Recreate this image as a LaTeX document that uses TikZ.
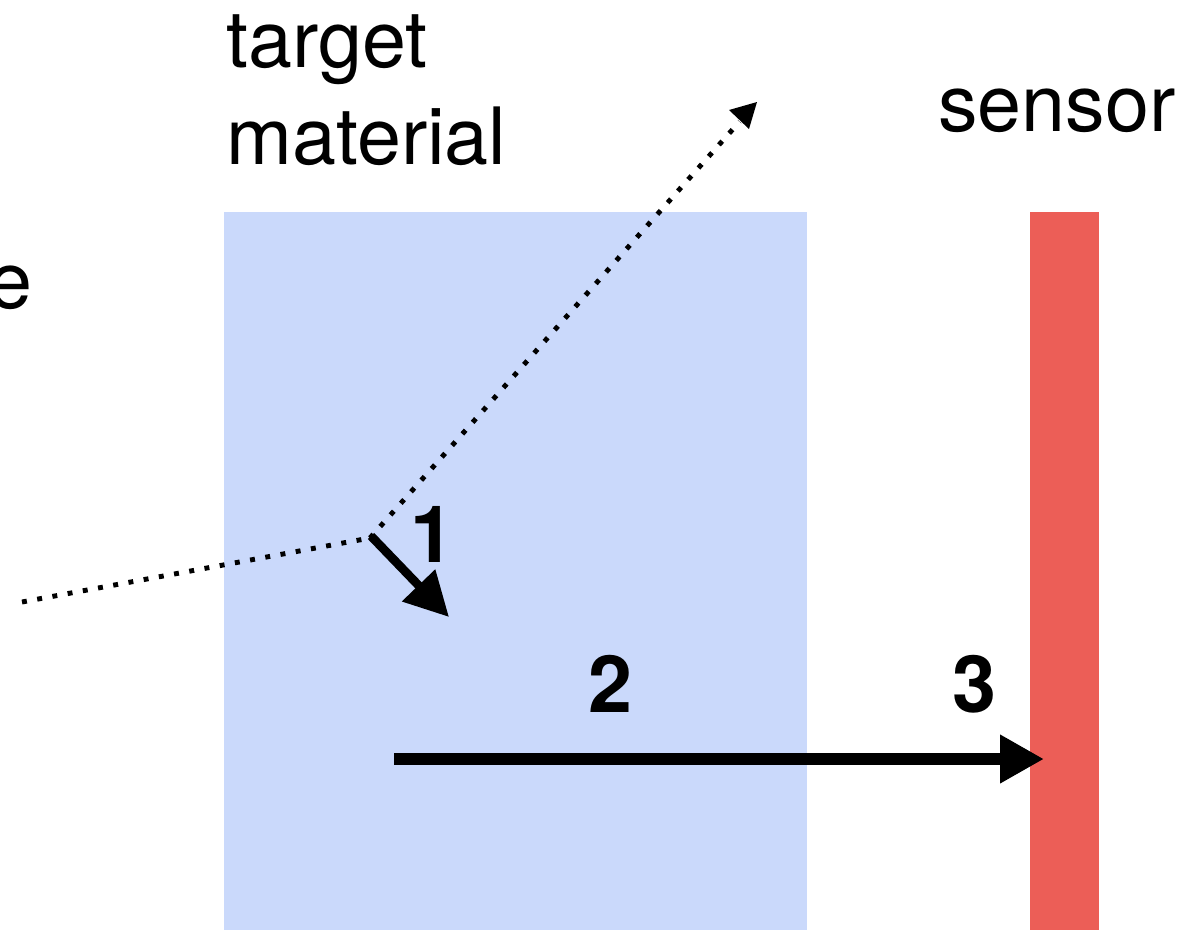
\documentclass[tikz,border=0pt]{standalone}
\usepackage{fontspec}
\setmainfont{TeX Gyre Heros}
\usetikzlibrary{arrows.meta,calc}
\definecolor{targetblue}{HTML}{CAD9FB}
\definecolor{sensorred}{HTML}{EC5E57}
\tikzset{
  lbl/.style={font=\fontsize{45}{57}\selectfont, inner sep=0pt, anchor=base west},
  num/.style={font=\fontsize{45}{50}\selectfont\bfseries, inner sep=0pt, anchor=base},
  dotpath/.style={line width=2.8pt, dash pattern=on 2.8pt off 6pt, line cap=butt},
  thickarrow/.style={line width=6.8pt, -{Triangle[length=25pt,width=26pt]}},
  midarrow/.style={line width=5pt, -{Triangle[length=25pt,width=25pt]}}
}
\begin{document}
\begin{tikzpicture}[x=0.02cm,y=-0.02cm]
\useasboundingbox (0,0) rectangle (1198,930);
\fill[targetblue] (224,212) rectangle (807,930);
\fill[sensorred] (1030,212) rectangle (1099,930);
\node[lbl] (target) at (226,67) {target};
\node[lbl] (material) at (226,164) {material};
\node[lbl] (sensor) at (938,131) {sensor};
\node[lbl, anchor=base east] (probe) at (33,308) {e};
\coordinate (start) at (22,602);
\coordinate (hit) at (370,538);
\coordinate (out) at (757,102);
\coordinate (a1s) at (371,536);
\coordinate (a1e) at (449,617);
\coordinate (a2s) at (394,759);
\coordinate (a2e) at (1044,759);
\draw[dotpath] (start) -- (hit);
\draw[dotpath] (hit) -- ($(hit)!0.955!(out)$);
\fill (out) -- ($(out)+(-28,8)$) -- ($(out)+(-8,27)$) -- cycle;
\draw[midarrow] (a1s) -- (a1e);
\draw[thickarrow] (a2s) -- (a2e);
\node[num] (n1) at (432,562) {1};
\node[num] (n2) at (610,712) {2};
\node[num] (n3) at (974,712) {3};
\end{tikzpicture}
\end{document}
